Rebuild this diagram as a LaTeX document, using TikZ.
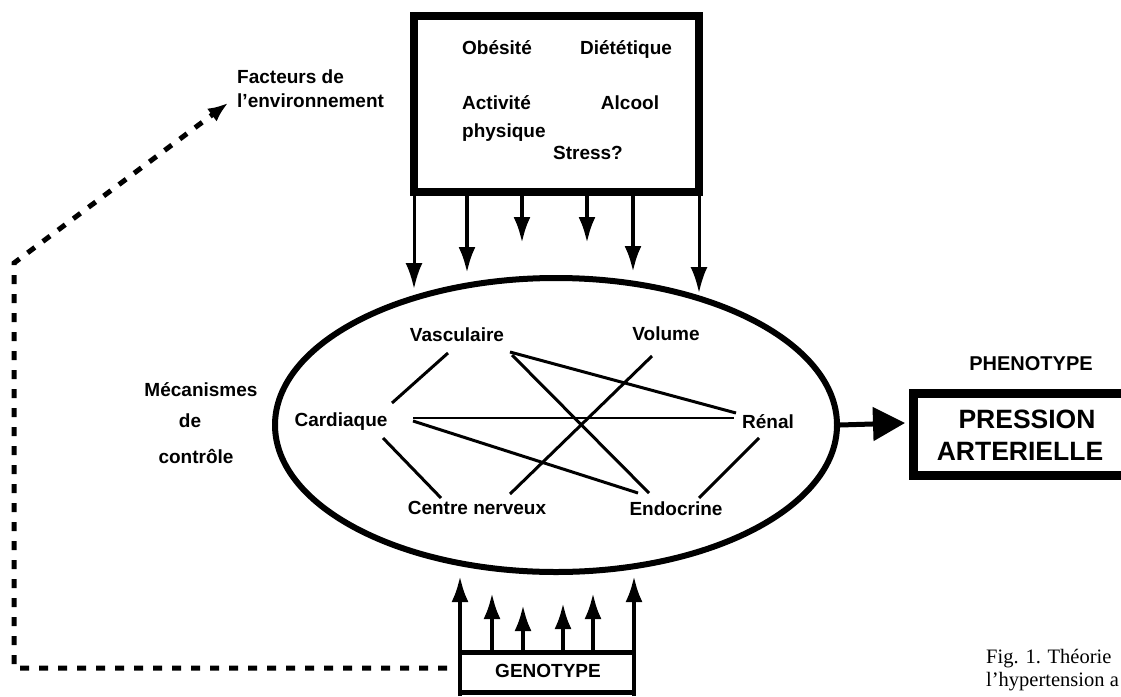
\documentclass[tikz,border=0pt]{standalone}
\usepackage{fontspec}
\setmainfont{Liberation Sans}
\newfontfamily\capfont{Liberation Serif}
\usetikzlibrary{arrows.meta,shapes.geometric}
\begin{document}
\begin{tikzpicture}[x=1pt,y=-1pt,
  lbl/.style={font=\fontsize{19}{22}\selectfont\bfseries, inner sep=0pt, anchor=base},
  lblw/.style={lbl, anchor=base west},
  big/.style={font=\fontsize{26.5}{30}\selectfont\bfseries, inner sep=0pt, anchor=base},
  captext/.style={font=\capfont\fontsize{20.5}{23}\selectfont, inner sep=0pt, anchor=base west},
  link/.style={line width=3pt},
  frame/.style={line width=8pt},
  gframe/.style={line width=5pt},
  feed/.style={line width=4pt, -{Latex[length=26pt,width=17pt]}},
  dashline/.style={line width=5pt, dash pattern=on 9pt off 10pt, -{Latex[length=20pt,width=16pt]}},
]
\useasboundingbox (0,0) rectangle (1121,696);

% environment box
\draw[frame] (414,16) rectangle (699,192);
\node[lbl] (obes) at (497,54) {Obésité};
\node[lbl] (diet) at (626,54) {Diététique};
\node[lblw] (act) at (462,109) {Activité};
\node[lblw] (phys) at (462,137) {physique};
\node[lbl] (alc) at (630,109) {Alcool};
\node[lbl] (stress) at (588,159) {Stress?};

% environment factors label
\node[lblw] (fact1) at (237,83) {Facteurs de};
\node[lblw] (fact2) at (237,107) {l'environnement};

% ellipse of control mechanisms
\node[draw, ellipse, line width=6pt, inner sep=0pt, minimum width=562pt, minimum height=294pt] (mech) at (556,425) {};

% control mechanisms label
\node[lbl] (meca) at (201,396) {Mécanismes};
\node[lbl] (de) at (190,427) {de};
\node[lbl] (ctrl) at (196,463) {contrôle};

% inner labels
\node[lbl] (vasc) at (457,341) {Vasculaire};
\node[lbl] (vol) at (666,340) {Volume};
\node[lbl] (card) at (341,426) {Cardiaque};
\node[lbl] (renal) at (768,428) {Rénal};
\node[lbl] (cnerv) at (477,514) {Centre nerveux};
\node[lbl] (endo) at (676,515) {Endocrine};

% connector end points
\coordinate (v1) at (448,353);  \coordinate (c1) at (392,403);
\coordinate (v2) at (510,352);  \coordinate (r2) at (736,413);
\coordinate (v3) at (512,355);  \coordinate (e3) at (649,493);
\coordinate (o4) at (652,356);  \coordinate (n4) at (510,494);
\coordinate (c5) at (413,418);  \coordinate (r5) at (734,418);
\coordinate (c6) at (413,421);  \coordinate (e6) at (638,493);
\coordinate (c7) at (383,438);  \coordinate (n7) at (441,498);
\coordinate (r8) at (759,438);  \coordinate (e8) at (699,498);

\draw[link] (v1) -- (c1);
\draw[link] (v2) -- (r2);
\draw[link] (v3) -- (e3);
\draw[link] (o4) -- (n4);
\draw[line width=2.5pt] (c5) -- (r5);
\draw[link] (c6) -- (e6);
\draw[link] (c7) -- (n7);
\draw[link] (r8) -- (e8);

% arrows from environment box
\coordinate (t1) at (414,289); \coordinate (t2) at (467,273); \coordinate (t3) at (522,243);
\coordinate (t4) at (587,243); \coordinate (t5) at (633,272); \coordinate (t6) at (699,293);
\draw[feed, line width=3pt] (414,192) -- (t1);
\draw[feed] (467,192) -- (t2);
\draw[feed] (522,192) -- (t3);
\draw[feed] (587,192) -- (t4);
\draw[feed] (633,192) -- (t5);
\draw[feed, line width=3pt] (699,192) -- (t6);

% genotype box
\draw[gframe] (460,652) -- (633,652);
\draw[gframe] (460,692) -- (633,692);
\node[lbl] (geno) at (548,677) {GENOTYPE};
\coordinate (g1) at (460,576); \coordinate (g2) at (492,593); \coordinate (g3) at (523,605);
\coordinate (g4) at (563,603); \coordinate (g5) at (593,593); \coordinate (g6) at (634,576);
\draw[feed] (460,696) -- (g1);
\draw[feed] (492,652) -- (g2);
\draw[feed] (523,652) -- (g3);
\draw[feed] (563,652) -- (g4);
\draw[feed] (593,652) -- (g5);
\draw[feed] (634,696) -- (g6);

% dashed feedback arrow
\coordinate (gd) at (447,668);
\coordinate (cornerA) at (14,668);
\coordinate (cornerB) at (14,263);
\coordinate (ftip) at (228,103);
\draw[dashline] (gd) -- (cornerA) -- (cornerB) -- (ftip);

% phenotype
\node[font=\fontsize{20}{22}\selectfont\bfseries, inner sep=0pt, anchor=base] (pheno) at (1031,370) {PHENOTYPE};
\draw[line width=9pt] (1121,393) -- (913,393) -- (913,475) -- (1121,475);
\node[big] (press) at (1027,428) {PRESSION};
\node[big] (art) at (1020,460) {ARTERIELLE};
\coordinate (ptip) at (905,423);
\draw[line width=5pt, -{Triangle[length=32pt,width=33pt]}] (mech.east) -- (ptip);

% caption
\node[captext] (cap1) at (986,663) {Fig. 1. Théorie};
\node[captext] (cap2) at (986,686) {l’hypertension a};
\end{tikzpicture}
\end{document}
